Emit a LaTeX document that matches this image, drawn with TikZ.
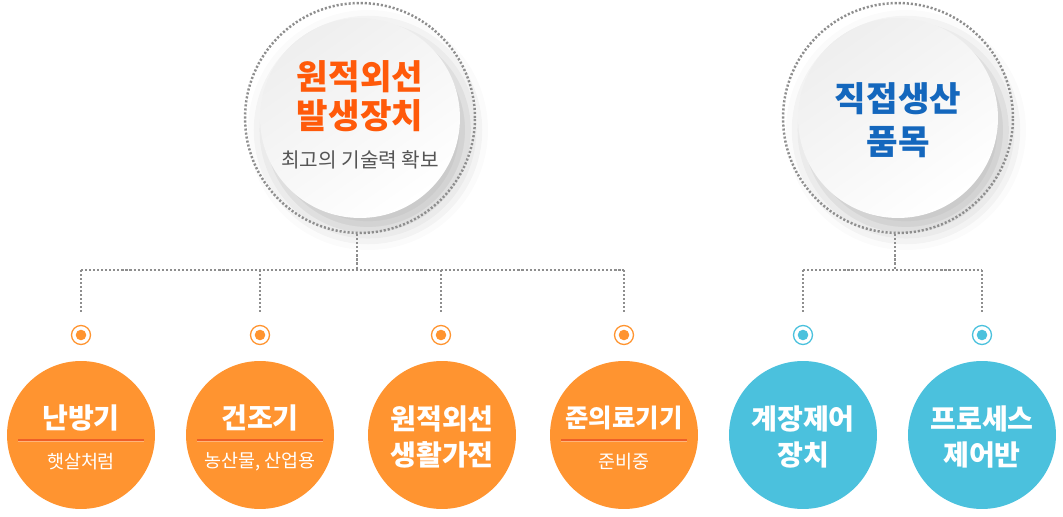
\documentclass[tikz,border=0pt]{standalone}
\usepackage{fontspec}
\setmainfont{Noto Sans CJK KR}
\usetikzlibrary{positioning,calc,shadows.blur}
\definecolor{dotgray}{HTML}{8E8E8E}
\definecolor{hotorange}{HTML}{FF5A0A}
\definecolor{subgray}{HTML}{555555}
\definecolor{deepblue}{HTML}{1467BD}
\definecolor{ofill}{HTML}{FF9430}
\definecolor{bfill}{HTML}{4BC1DD}
\definecolor{sepdark}{HTML}{EE5F28}
\definecolor{seplight}{HTML}{FFB47A}

\begin{document}
\begin{tikzpicture}[x=0.02cm, y=-0.02cm,
  dotline/.style={draw=dotgray, line width=1.4pt, dash pattern=on 1.2pt off 1.1pt},
  ring/.style={circle, dotline, minimum size=4.6cm, inner sep=0pt},
  disc/.style={circle, minimum size=4.0cm, inner sep=0pt,
    top color=gray!13, bottom color=white, shading angle=35,
    blur shadow={shadow xshift=0.16cm, shadow yshift=-0.24cm, shadow blur radius=0.4cm, shadow opacity=25}},
  toptitle/.style={align=center, font=\fontsize{19.5}{22}\selectfont\bfseries},
  topsub/.style={text=subgray, font=\fontsize{11.5}{14}\selectfont},
  bullet/.style={circle, draw=#1, line width=0.74pt, minimum size=0.38cm, inner sep=0pt,
    path picture={\fill[#1] (path picture bounding box.center) circle[radius=0.106cm];}},
  ocirc/.style={circle, fill=ofill, minimum size=2.96cm, inner sep=0pt},
  bcirc/.style={circle, fill=bfill, minimum size=2.96cm, inner sep=0pt},
  btitle/.style={text=white, align=center, font=\fontsize{16}{20.4}\selectfont\bfseries},
  bsub/.style={text=white, font=\fontsize{10.5}{12}\selectfont},
  sepline/.style={line width=0.7pt}]
\useasboundingbox (0,0) rectangle (1063,517);

% top circles
\node[disc] (heat) at (360,118) {};
\node[ring] (heatring) at (heat) {};
\node[toptitle, text=hotorange] (heatT) at (360,96) {원적외선\\발생장치};
\node[topsub] (heatS) at (360,160) {최고의 기술력 확보};

\node[disc] (prod) at (898,118) {};
\node[ring] (prodring) at (prod) {};
\node[toptitle, text=deepblue, font=\fontsize{19.5}{24.4}\selectfont\bfseries] (prodT) at (898,120) {직접생산\\품목};

% markers
\node[bullet=ofill] (m1) at (81,335) {};
\node[bullet=ofill] (m2) at (260,335) {};
\node[bullet=ofill] (m3) at (441,335) {};
\node[bullet=ofill] (m4) at (624,335) {};
\node[bullet=bfill] (m5) at (803,335) {};
\node[bullet=bfill] (m6) at (982,335) {};

% dotted tree
\coordinate (hb) at (357,270);
\coordinate (pb) at (895,270);
\draw[dotline] (heatring.south -| hb) -- (hb);
\draw[dotline] (m1 |- hb) -- (m4 |- hb);
\draw[dotline, shorten >=0.26cm] (m1 |- hb) -- (m1);
\draw[dotline, shorten >=0.26cm] (m2 |- hb) -- (m2);
\draw[dotline, shorten >=0.26cm] (m3 |- hb) -- (m3);
\draw[dotline, shorten >=0.26cm] (m4 |- hb) -- (m4);
\draw[dotline] (prodring.south -| pb) -- (pb);
\draw[dotline] (m5 |- pb) -- (m6 |- pb);
\draw[dotline, shorten >=0.26cm] (m5 |- pb) -- (m5);
\draw[dotline, shorten >=0.26cm] (m6 |- pb) -- (m6);

% bottom circles
\node[ocirc] (c1) at (81,435) {};
\node[ocirc] (c2) at (260,435) {};
\node[ocirc] (c3) at (442,435) {};
\node[ocirc] (c4) at (624,435) {};
\node[bcirc] (c5) at (803,435) {};
\node[bcirc] (c6) at (982,435) {};

\node[btitle] (t1) at (81,418) {난방기};
\draw[sepline, sepdark] ([shift={(-63,5)}]c1.center) -- ([shift={(63,5)}]c1.center);
\draw[sepline, seplight] ([shift={(-63,6.5)}]c1.center) -- ([shift={(63,6.5)}]c1.center);
\node[bsub] (s1) at (81,462) {햇살처럼};

\node[btitle] (t2) at (260,418) {건조기};
\draw[sepline, sepdark] ([shift={(-63,5)}]c2.center) -- ([shift={(63,5)}]c2.center);
\draw[sepline, seplight] ([shift={(-63,6.5)}]c2.center) -- ([shift={(63,6.5)}]c2.center);
\node[bsub] (s2) at (260,462) {농산물, 산업용};

\node[btitle] (t3) at (442,437) {원적외선\\생활가전};

\node[btitle, font=\fontsize{14.5}{20.4}\selectfont\bfseries] (t4) at (624,418) {준의료기기};
\draw[sepline, sepdark] ([shift={(-63,5)}]c4.center) -- ([shift={(63,5)}]c4.center);
\draw[sepline, seplight] ([shift={(-63,6.5)}]c4.center) -- ([shift={(63,6.5)}]c4.center);
\node[bsub] (s4) at (624,462) {준비중};

\node[btitle] (t5) at (803,437) {계장제어\\장치};
\node[btitle] (t6) at (982,437) {프로세스\\제어반};
\end{tikzpicture}
\end{document}
